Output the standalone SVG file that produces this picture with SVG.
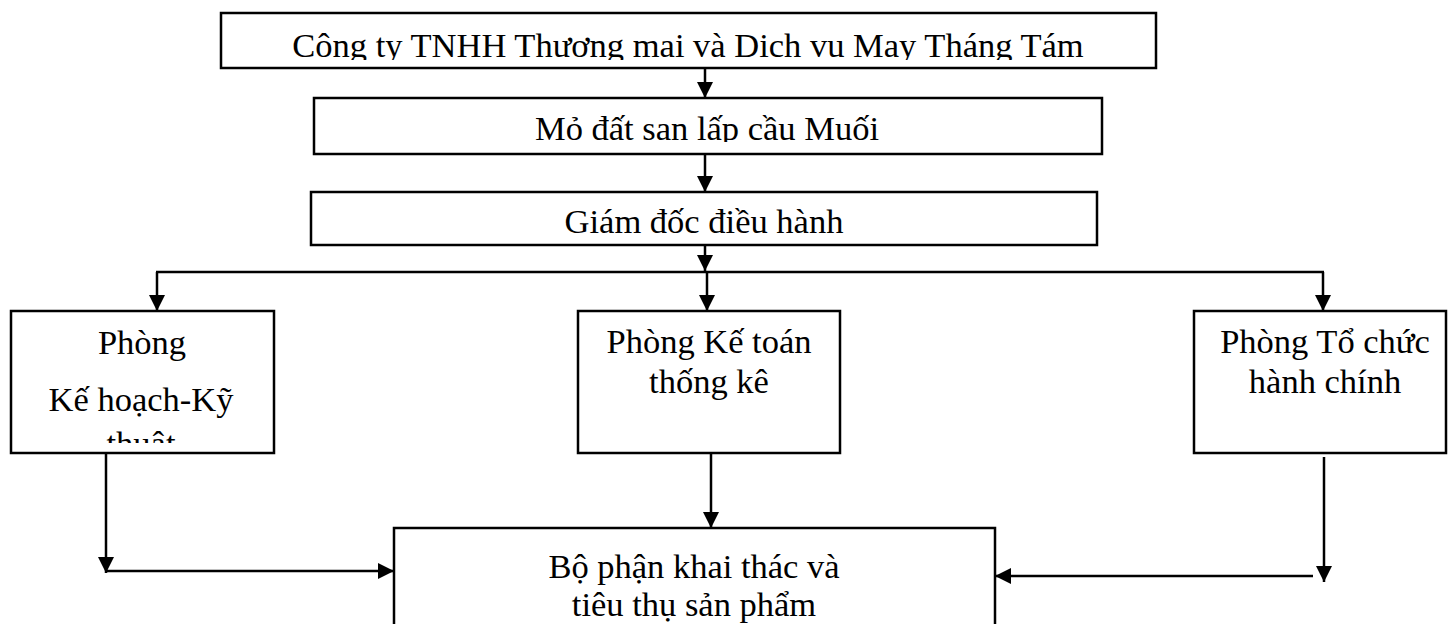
<svg xmlns="http://www.w3.org/2000/svg" width="1449" height="624" viewBox="0 0 1449 624">
<style>
  .box { fill: #ffffff; stroke: #000000; stroke-width: 2.5; }
  .t { font-family: "Liberation Serif", "Times New Roman", serif; font-size: 34.5px; fill: #000000; text-anchor: middle; }
  .c { fill: none; stroke: #000000; stroke-width: 2.5; }
</style>
<defs>
  <marker id="ah" markerUnits="userSpaceOnUse" markerWidth="17" markerHeight="17" refX="16" refY="8" orient="auto">
    <path d="M0,0 L16,8 L0,16 z" fill="#000000"/>
  </marker>
  <clipPath id="clipTop"><rect x="221" y="13" width="935" height="47"/></clipPath>
  <clipPath id="clipMo"><rect x="314" y="98" width="788" height="44"/></clipPath>
  <clipPath id="clipLeft"><rect x="11" y="311" width="263" height="132"/></clipPath>
</defs>

<g id="node-company">
  <rect class="box" x="221" y="13" width="935" height="55" stroke-width="3"/>
  <text class="t" x="688" y="57" clip-path="url(#clipTop)">Công ty TNHH Thương mai và Dich vu May Tháng Tám</text>
</g>
<g id="node-mo-dat">
  <rect class="box" x="314" y="98" width="788" height="56"/>
  <text class="t" x="707" y="140" clip-path="url(#clipMo)">Mỏ đất san lấp cầu Muối</text>
</g>
<g id="node-giam-doc">
  <rect class="box" x="311" y="192" width="786" height="53"/>
  <text class="t" x="704" y="233">Giám đốc điều hành</text>
</g>
<g id="node-ke-hoach">
  <rect class="box" x="11" y="311" width="263" height="142"/>
  <g clip-path="url(#clipLeft)">
    <text class="t" x="142" y="354">Phòng</text>
    <text class="t" x="141" y="411">Kế hoạch-Kỹ</text>
    <text class="t" x="141" y="455">thuật</text>
  </g>
</g>
<g id="node-ke-toan">
  <rect class="box" x="578" y="311" width="262" height="142"/>
  <text class="t" x="709" y="353">Phòng Kế toán</text>
  <text class="t" x="709" y="393">thống kê</text>
</g>
<g id="node-to-chuc">
  <rect class="box" x="1194" y="311" width="252" height="142"/>
  <text class="t" x="1325" y="353">Phòng Tổ chức</text>
  <text class="t" x="1325" y="393">hành chính</text>
</g>
<g id="node-khai-thac">
  <rect class="box" x="394" y="528" width="601" height="110"/>
  <text class="t" x="694" y="578">Bộ phận khai thác và</text>
  <text class="t" x="694" y="616">tiêu thụ sản phẩm</text>
</g>

<g id="connectors">
  <line class="c" x1="705" y1="68" x2="705" y2="98" marker-end="url(#ah)"/>
  <line class="c" x1="705" y1="154" x2="705" y2="192" marker-end="url(#ah)"/>
  <line class="c" x1="705" y1="245" x2="705" y2="271" marker-end="url(#ah)"/>
  <line class="c" x1="156" y1="272" x2="1324" y2="272"/>
  <line class="c" x1="157" y1="272" x2="157" y2="311" marker-end="url(#ah)"/>
  <line class="c" x1="707" y1="272" x2="707" y2="311" marker-end="url(#ah)"/>
  <line class="c" x1="1323" y1="272" x2="1323" y2="311" marker-end="url(#ah)"/>
  <line class="c" x1="106" y1="453" x2="106" y2="573" marker-end="url(#ah)"/>
  <line class="c" x1="106" y1="571" x2="394" y2="571" marker-end="url(#ah)"/>
  <line class="c" x1="711" y1="453" x2="711" y2="528" marker-end="url(#ah)"/>
  <line class="c" x1="1324" y1="457" x2="1324" y2="582" marker-end="url(#ah)"/>
  <line class="c" x1="1313" y1="576" x2="995" y2="576" marker-end="url(#ah)"/>
</g>
</svg>
